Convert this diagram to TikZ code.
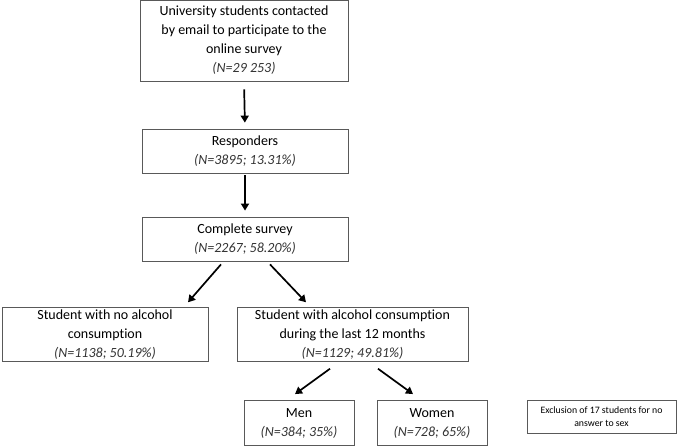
\documentclass[tikz,border=0pt]{standalone}
\usepackage{fontspec}
\setmainfont{Carlito}[Ligatures=NoCommon]
\usetikzlibrary{arrows.meta, positioning}
\definecolor{rand}{HTML}{595959}
\definecolor{zahl}{HTML}{333333}

\newcommand{\anz}[1]{\textit{\color{zahl}#1}}

\begin{document}
\begin{tikzpicture}[
        x=1pt, y=1pt,
        kasten/.style={draw=rand, line width=0.8pt, align=center, inner sep=2pt,
                       font=\fontsize{14}{19}\selectfont},
        pfeil/.style={-{Triangle[width=8pt,length=7pt]}, line width=1.7pt},
      ]
      \useasboundingbox (0,0) rectangle (685,446);

      % Hauptstrang
      \node[kasten, minimum width=208pt, minimum height=81pt] (kontakt) at (244,405.5)
        {University students contacted\\by email to participate to the\\online survey\\\anz{(N=29 253)}};
      \node[kasten, minimum width=206pt, minimum height=44pt] (antwort) at (245,295)
        {Responders\\\anz{(N=3895; 13.31\%)}};
      \node[kasten, minimum width=206pt, minimum height=44pt] (komplett) at (245,207)
        {Complete survey\\\anz{(N=2267; 58.20\%)}};

      % Verzweigung Alkohol
      \node[kasten, minimum width=206pt, minimum height=49pt] (ohne) at (105,111.5)
        {Student with no alcohol\\consumption\\\anz{(N=1138; 50.19\%)}};
      \node[kasten, minimum width=231pt, minimum height=49pt] (mit) at (352.5,111.5)
        {Student with alcohol consumption\\during the last 12 months\\\anz{(N=1129; 49.81\%)}};

      % Geschlecht
      \node[kasten, minimum width=110pt, minimum height=45pt] (maenner) at (299,23)
        {Men\\\anz{(N=384; 35\%)}};
      \node[kasten, minimum width=110pt, minimum height=45pt] (frauen) at (432,23)
        {Women\\\anz{(N=728; 65\%)}};
      \node[kasten, minimum width=149pt, minimum height=33pt,
            font=\fontsize{9.8}{13}\selectfont] (ausschluss) at (601.5,29.5)
        {Exclusion of 17 students for no\\answer to sex};

      \draw[pfeil, shorten <=8pt, shorten >=6pt] (kontakt.south) -- (antwort.north);
      \draw[pfeil, shorten <=2pt, shorten >=6pt] (antwort.south) -- (komplett.north);
      \draw[pfeil] ([xshift=-24pt,yshift=-3pt]komplett.south) -- ([xshift=83pt,yshift=5pt]ohne.north);
      \draw[pfeil] ([xshift=25pt,yshift=-3pt]komplett.south) -- ([xshift=-46.5pt,yshift=5pt]mit.north);
      \draw[pfeil] ([xshift=-22.5pt,yshift=-7pt]mit.south) -- ([xshift=-4pt,yshift=6pt]maenner.north);
      \draw[pfeil] ([xshift=25.5pt,yshift=-7pt]mit.south) -- ([xshift=-19pt,yshift=6pt]frauen.north);
    \end{tikzpicture}
\end{document}
